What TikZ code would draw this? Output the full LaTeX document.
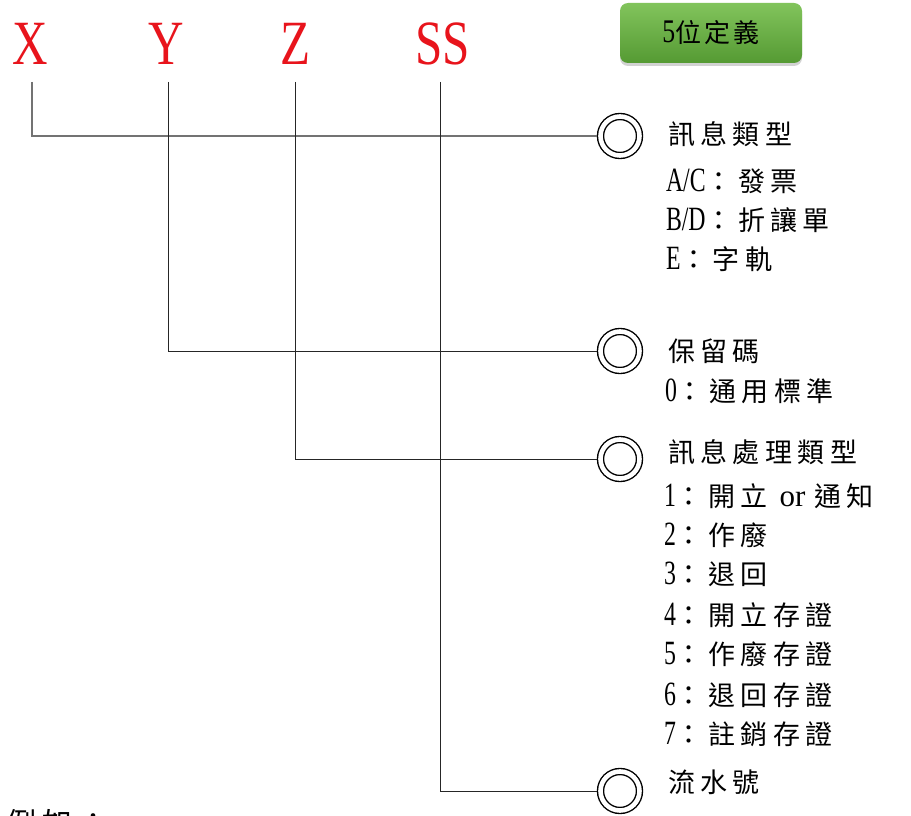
\documentclass[tikz,border=0pt]{standalone}
\usepackage{fontspec}
\usetikzlibrary{shadows}
\newfontfamily\cjk[LetterSpace=20]{Noto Sans CJK TC}
\newfontfamily\cjkbtn[LetterSpace=12]{Noto Sans CJK TC}
\newfontfamily\lat[FakeStretch=0.78]{Liberation Serif}
\newfontfamily\latn[FakeStretch=0.7]{Liberation Serif}
\newfontfamily\tnr{Liberation Serif}
\definecolor{btntop}{HTML}{82C45C}
\definecolor{btnbot}{HTML}{559A33}
\definecolor{letterred}{HTML}{E8141C}
\newcommand{\cj}[1]{{\cjk #1}}
\newcommand{\lt}[1]{{\fontsize{34}{34}\latn #1}}
\begin{document}
\begin{tikzpicture}[x=1pt,y=-1pt,
  every node/.style={inner sep=0pt, outer sep=0pt},
  letter/.style={anchor=base, text=letterred, font=\fontsize{63}{63}\lat},
  ring/.style={circle, draw=black, double=white, line width=1.4pt, double distance=4.6pt,
    minimum size=39pt, outer sep=3.7pt},
  conn/.style={draw=black!85, line width=1pt},
  connx/.style={draw=black!55, line width=1.3pt},
  txt/.style={anchor=base west, font=\fontsize{27}{27}\cjk},
  btn/.style={rounded corners=8pt, minimum width=182pt, minimum height=60pt,
    top color=btntop, bottom color=btnbot,
    drop shadow={shadow xshift=0pt, shadow yshift=-3pt, opacity=0.35}}
]
\fill[white] (0,0) rectangle (911,816);
\useasboundingbox (0,0) rectangle (911,816);

% letters
\node[letter] (X) at (30,65) {X};
\node[letter] (Y) at (166,65) {Y};
\node[letter] (Z) at (296,65) {Z};
\node[letter] (SS) at (443,65) {SS};

\coordinate (xt) at (32,82);
\coordinate (yt) at (168,82);
\coordinate (zt) at (295,82);
\coordinate (st) at (440,82);

% button
\node[btn] (btn) at (711,33) {{\fontsize{33}{33}\lat 5}{\fontsize{26}{26}\cjkbtn 位定義}};

% rings
\node[ring] (c1) at (620,136) {};
\node[ring] (c2) at (620,351) {};
\node[ring] (c3) at (620,459) {};
\node[ring] (c4) at (620,791) {};

% connectors
\draw[connx] (xt) |- (c1.west);
\draw[conn] (yt) |- (c2.west);
\draw[conn] (zt) |- (c3.west);
\draw[conn] (st) |- (c4.west);

% texts
\node[txt] (t11) at (668,144) {訊息類型};
\node[txt] (t12) at (666,191) {\lt{A/C}：發票};
\node[txt] (t13) at (666,230) {\lt{B/D}：折讓單};
\node[txt] (t14) at (666,269) {\lt{E}：字軌};

\node[txt] (t21) at (668,361) {保留碼};
\node[txt] (t22) at (665,401) {\lt{0}：通用標準};

\node[txt] (t31) at (668,462) {訊息處理類型};
\node[txt] (t32) at (664,506) {\lt{1}：開立\hspace{12pt}{\fontsize{31}{31}\tnr or}\hspace{9pt}通知};
\node[txt] (t33) at (664,545) {\lt{2}：作廢};
\node[txt] (t34) at (664,584) {\lt{3}：退回};
\node[txt] (t35) at (664,625) {\lt{4}：開立存證};
\node[txt] (t36) at (664,664) {\lt{5}：作廢存證};
\node[txt] (t37) at (664,705) {\lt{6}：退回存證};
\node[txt] (t38) at (664,744) {\lt{7}：註銷存證};

\node[txt] (t41) at (668,792) {流水號};

\node[anchor=north west, font=\fontsize{30}{30}\cjk] (ex) at (6,809) {例如：};
\end{tikzpicture}
\end{document}
